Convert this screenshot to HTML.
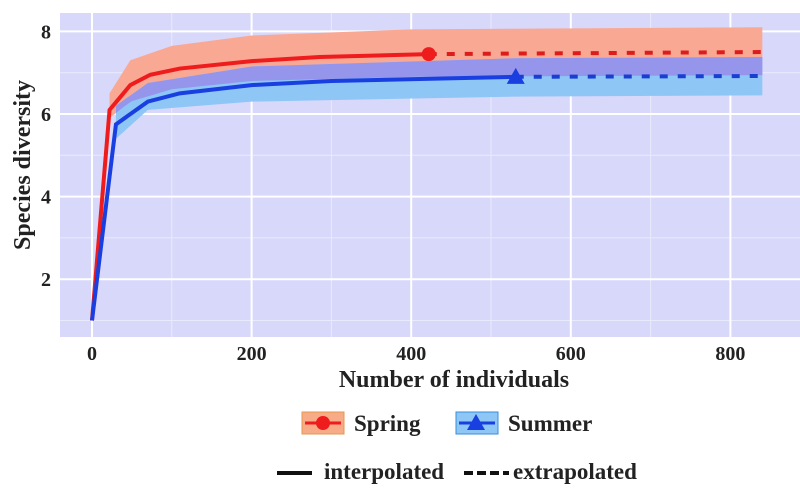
<!DOCTYPE html>
<html><head><meta charset="utf-8"><style>
body{margin:0;background:#fff;}
svg{display:block;font-family:"Liberation Serif",serif;font-weight:bold;}
</style></head><body>
<svg id="c" width="800" height="490"></svg>
<script>
const springN=[0,22,48,73,110,200,285,422];
const springY=[1,6.1,6.7,6.95,7.1,7.28,7.38,7.45];
const springBandN=[22,48,100,200,400,840];
const springHi=[6.5,7.3,7.65,7.9,8.05,8.1];
const springLo=[5.9,6.3,6.6,6.8,6.9,6.94];
const springExtN=[422,840];
const springExtY=[7.45,7.5];
const summerN=[0,30,70,110,200,300,531];
const summerY=[1,5.75,6.3,6.5,6.7,6.8,6.9];
const summerBandN=[30,70,200,531,840];
const summerHi=[6.2,6.75,7.15,7.35,7.38];
const summerLo=[5.4,6.1,6.3,6.42,6.45];
const summerExtN=[531,840];
const summerExtY=[6.9,6.92];
const xTicks=[0,200,400,600,800];
const yTicks=[2,4,6,8];

const NS="http://www.w3.org/2000/svg";
const svg=document.getElementById('c');
const X=v=>92+v*0.798;
const Y=v=>114-(v-6)*41.3;
function el(t,a){const e=document.createElementNS(NS,t);for(const k in a)e.setAttribute(k,a[k]);svg.appendChild(e);return e;}
let bg=el('rect',{x:60,y:13,width:740,height:324,fill:'#d8d8fa'});


for(let v=100;v<=800;v+=200){let g=el('line',{x1:X(v),x2:X(v),y1:13,y2:337,stroke:'#eaeafd','stroke-width':1});}
for(let v=1;v<=7;v+=2){let g=el('line',{x1:60,x2:800,y1:Y(v),y2:Y(v),stroke:'#eaeafd','stroke-width':1});}
xTicks.forEach(v=>{let g=el('line',{x1:X(v),x2:X(v),y1:13,y2:337,stroke:'#fff','stroke-width':2});
let t=el('text',{x:X(v),y:360,'text-anchor':'middle','font-size':20,fill:'#222'});t.textContent=v;});
yTicks.forEach(v=>{let g=el('line',{x1:60,x2:800,y1:Y(v),y2:Y(v),stroke:'#fff','stroke-width':2});
let t=el('text',{x:51,y:Y(v)+7,'text-anchor':'end','font-size':20,fill:'#222'});t.textContent=v;});
function band(ns,hi,lo,fill,name){let p=ns.map((n,i)=>X(n)+','+Y(hi[i]));for(let i=ns.length-1;i>=0;i--)p.push(X(ns[i])+','+Y(lo[i]));
let e=el('polygon',{points:p.join(' '),fill:fill});}
function interp(ns,vs,n){if(n<=ns[0])return vs[0];for(let i=1;i<ns.length;i++)if(n<=ns[i]){const t=(n-ns[i-1])/(ns[i]-ns[i-1]);return vs[i-1]+t*(vs[i]-vs[i-1]);}return vs[vs.length-1];}
band(springBandN,springHi,springLo,'#f9a894','spring-band');
band(summerBandN,summerHi,summerLo,'#8ec6f6','summer-band');
const ovN=[];for(let n=30;n<=840;n+=10)ovN.push(n);
const ovHi=ovN.map(n=>Math.min(interp(summerBandN,summerHi,n),interp(springBandN,springHi,n)));
const ovLo=ovN.map(n=>Math.max(interp(summerBandN,summerLo,n),interp(springBandN,springLo,n)));
band(ovN,ovHi,ovLo.map((l,i)=>Math.min(l,ovHi[i])),'#9595ec','band-overlap');
function line(ns,vs,col,dash,name){let e=el('polyline',{points:ns.map((n,i)=>X(n)+','+Y(vs[i])).join(' '),fill:'none',stroke:col,'stroke-width':4,'stroke-dasharray':dash||'none'});}
line(springN,springY,'#ee1c1c','', 'spring-interpolated-line');
line(springExtN,springExtY,'#dd1c1c','8 10','spring-extrapolated-line');
line(summerN,summerY,'#1a3fe0','', 'summer-interpolated-line');
line(summerExtN,summerExtY,'#1a3fd0','8 10','summer-extrapolated-line');
let sp=el('circle',{cx:X(springExtN[0]),cy:Y(springExtY[0]),r:7,fill:'#ee1c1c'});
const sx=X(summerExtN[0]),sy=Y(summerExtY[0]);
let su=el('polygon',{points:`${sx-9},${sy+7} ${sx+9},${sy+7} ${sx},${sy-9}`,fill:'#1a3fe0'});
</script>
<svg style="position:absolute;left:0;top:0" width="800" height="490">
<text x="30" y="165" transform="rotate(-90 30 165)" text-anchor="middle" font-size="24" fill="#222">Species diversity</text>
<text x="454" y="387" text-anchor="middle" font-size="24" fill="#222">Number of individuals</text>
<g>
<rect x="302" y="412" width="42" height="22" fill="#f7ab86" stroke="#e39a50"/>
<line x1="305" y1="423" x2="341" y2="423" stroke="#ee1c1c" stroke-width="3"/>
<circle cx="323" cy="423" r="7" fill="#ee1c1c"/>
<text x="354" y="431" font-size="23" fill="#222">Spring</text>
</g>
<g>
<rect x="456" y="412" width="42" height="22" fill="#8ec6f6" stroke="#3b8ed8"/>
<line x1="459" y1="423" x2="495" y2="423" stroke="#1a3fe0" stroke-width="3"/>
<polygon points="467,430 485,430 476,414" fill="#1a3fe0"/>
<text x="508" y="431" font-size="23" fill="#222">Summer</text>
</g>
<g>
<line x1="277" y1="473" x2="312" y2="473" stroke="#111" stroke-width="4"/>
<text x="324" y="479" font-size="23" fill="#222">interpolated</text>
</g>
<g>
<line x1="464" y1="473" x2="509" y2="473" stroke="#111" stroke-width="4" stroke-dasharray="9 4"/>
<text x="513" y="479" font-size="23" fill="#222">extrapolated</text>
</g>
</svg>
</body></html>
